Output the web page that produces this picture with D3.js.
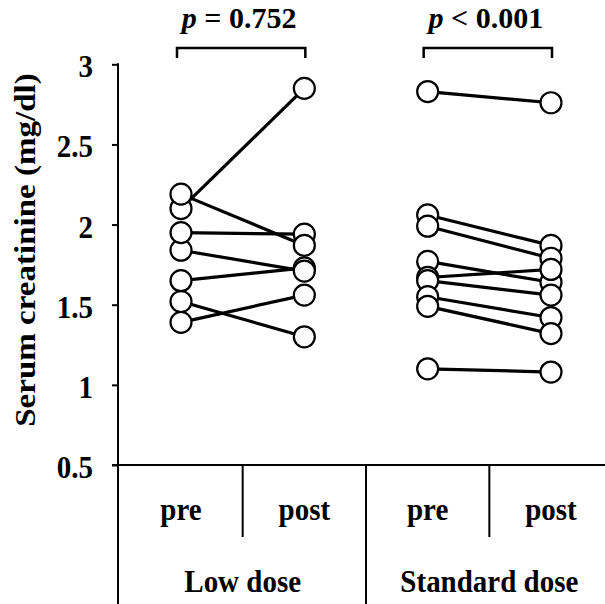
<!DOCTYPE html>
<html>
<head>
<meta charset="utf-8">
<script src="https://cdn.jsdelivr.net/npm/d3@7"></script>
<style>
  html, body { margin: 0; padding: 0; background: #fff; }
  svg { display: block; }
  text { font-family: "Liberation Serif", "Times New Roman", serif; font-weight: bold; fill: #000; }
</style>
</head>
<body>
<svg id="chart" width="605" height="604"></svg>
<script>
// ---- data ----
const positions = ["Low dose pre", "Low dose post", "Standard dose pre", "Standard dose post"];
const phaseLabels = ["pre", "post", "pre", "post"];
const groupLabels = ["Low dose", "Standard dose"];
const pValues = ["= 0.752", "< 0.001"];

const lowPre  = [1.39, 1.52, 1.65, 1.84, 1.95, 2.10, 2.19];
const lowPost = [1.56, 1.30, 1.73, 1.71, 1.94, 2.85, 1.87];
const stdPre  = [2.83, 2.06, 1.99, 1.77, 1.67, 1.65, 1.55, 1.49, 1.10];
const stdPost = [2.76, 1.87, 1.79, 1.64, 1.72, 1.56, 1.42, 1.32, 1.08];

const yTicks = [0.5, 1, 1.5, 2, 2.5, 3];
const yTitle = "Serum creatinine (mg/dl)";

// ---- layout ----
const svg = d3.select("#chart");
const W = 605, H = 604;
const axisX = 118;
const baseY = 465;
const SY = 1.12; // vertical text stretch seen in reference

const y = d3.scaleLinear().domain([0.5, 3]).range([baseY, 64.3]);
const x = d3.scalePoint().domain(positions).range([181, 551]);

// y axis
const yAxis = d3.axisLeft(y).tickValues(yTicks).tickSize(6).tickPadding(19)
  .tickFormat(d => String(d));
const gy = svg.append("g").attr("transform", `translate(${axisX},0)`).call(yAxis);
gy.select(".domain").remove();
gy.selectAll(".tick line").attr("stroke", "#000").attr("stroke-width", 2);
gy.selectAll(".tick text")
  .attr("x", 0).attr("dy", null)
  .attr("transform", `translate(-25,12.5) scale(1,${SY})`)
  .style("font-family", '"Liberation Serif", "Times New Roman", serif')
  .style("font-weight", "bold")
  .style("font-size", "29px")
  .attr("fill", "#000");

// axis vertical line
svg.append("line")
  .attr("x1", axisX).attr("x2", axisX)
  .attr("y1", y(3) - 1).attr("y2", H)
  .attr("stroke", "#000").attr("stroke-width", 2);

// baseline horizontal
svg.append("line")
  .attr("x1", axisX - 6).attr("x2", W)
  .attr("y1", baseY).attr("y2", baseY)
  .attr("stroke", "#000").attr("stroke-width", 2);

// separators
const step = x.step();
const sepShort = [x(positions[0]) + step / 2, x(positions[2]) + step / 2];
sepShort.forEach(sx => {
  svg.append("line").attr("x1", sx).attr("x2", sx)
    .attr("y1", baseY).attr("y2", 537)
    .attr("stroke", "#000").attr("stroke-width", 2);
});
const sepLong = x(positions[1]) + step / 2;
svg.append("line").attr("x1", sepLong).attr("x2", sepLong)
  .attr("y1", baseY).attr("y2", H)
  .attr("stroke", "#000").attr("stroke-width", 2);

function stretchedText(px, py, size, sy) {
  return svg.append("text")
    .attr("transform", `translate(${px},${py}) scale(1,${sy})`)
    .attr("text-anchor", "middle")
    .style("font-size", size + "px");
}

// phase labels
positions.forEach((p, i) => {
  stretchedText(x(p), 520, 29, SY).text(phaseLabels[i]);
});
// group labels
[0, 1].forEach(g => {
  const cx = (x(positions[g * 2]) + x(positions[g * 2 + 1])) / 2;
  stretchedText(cx, 592, 29, SY).text(groupLabels[g]);
});

// y title (stretched along its length, which is vertical on screen)
svg.append("text")
  .attr("transform", `translate(35,250) rotate(-90) scale(${SY},1)`)
  .attr("text-anchor", "middle")
  .style("font-size", "29.5px")
  .text(yTitle);

// brackets and p values
[0, 1].forEach(g => {
  const x1 = x(positions[g * 2]) - 4;
  const x2 = x(positions[g * 2 + 1]) + 1;
  svg.append("path")
    .attr("d", `M${x1},58V48H${x2}V58`)
    .attr("fill", "none").attr("stroke", "#000").attr("stroke-width", 2.5);
  const t = stretchedText((x1 + x2) / 2 - 2, 28, 30, 1);
  t.append("tspan").style("font-style", "italic").text("p");
  t.append("tspan").text(" " + pValues[g]);
});

// paired data
const groups = [
  { pre: lowPre, post: lowPost, xp: positions[0], xq: positions[1] },
  { pre: stdPre, post: stdPost, xp: positions[2], xq: positions[3] }
];

const lineG = svg.append("g");
const dotG = svg.append("g");
groups.forEach(gr => {
  gr.pre.forEach((v, i) => {
    lineG.append("line")
      .attr("x1", x(gr.xp)).attr("y1", y(v))
      .attr("x2", x(gr.xq)).attr("y2", y(gr.post[i]))
      .attr("stroke", "#000").attr("stroke-width", 3.2);
  });
});
groups.forEach(gr => {
  [[gr.pre, gr.xp], [gr.post, gr.xq]].forEach(([vals, key]) => {
    dotG.selectAll(null).data(vals).enter().append("circle")
      .attr("cx", x(key)).attr("cy", d => y(d))
      .attr("r", 10.5)
      .attr("fill", "#fff").attr("stroke", "#000").attr("stroke-width", 2.2);
  });
});
</script>
</body>
</html>
